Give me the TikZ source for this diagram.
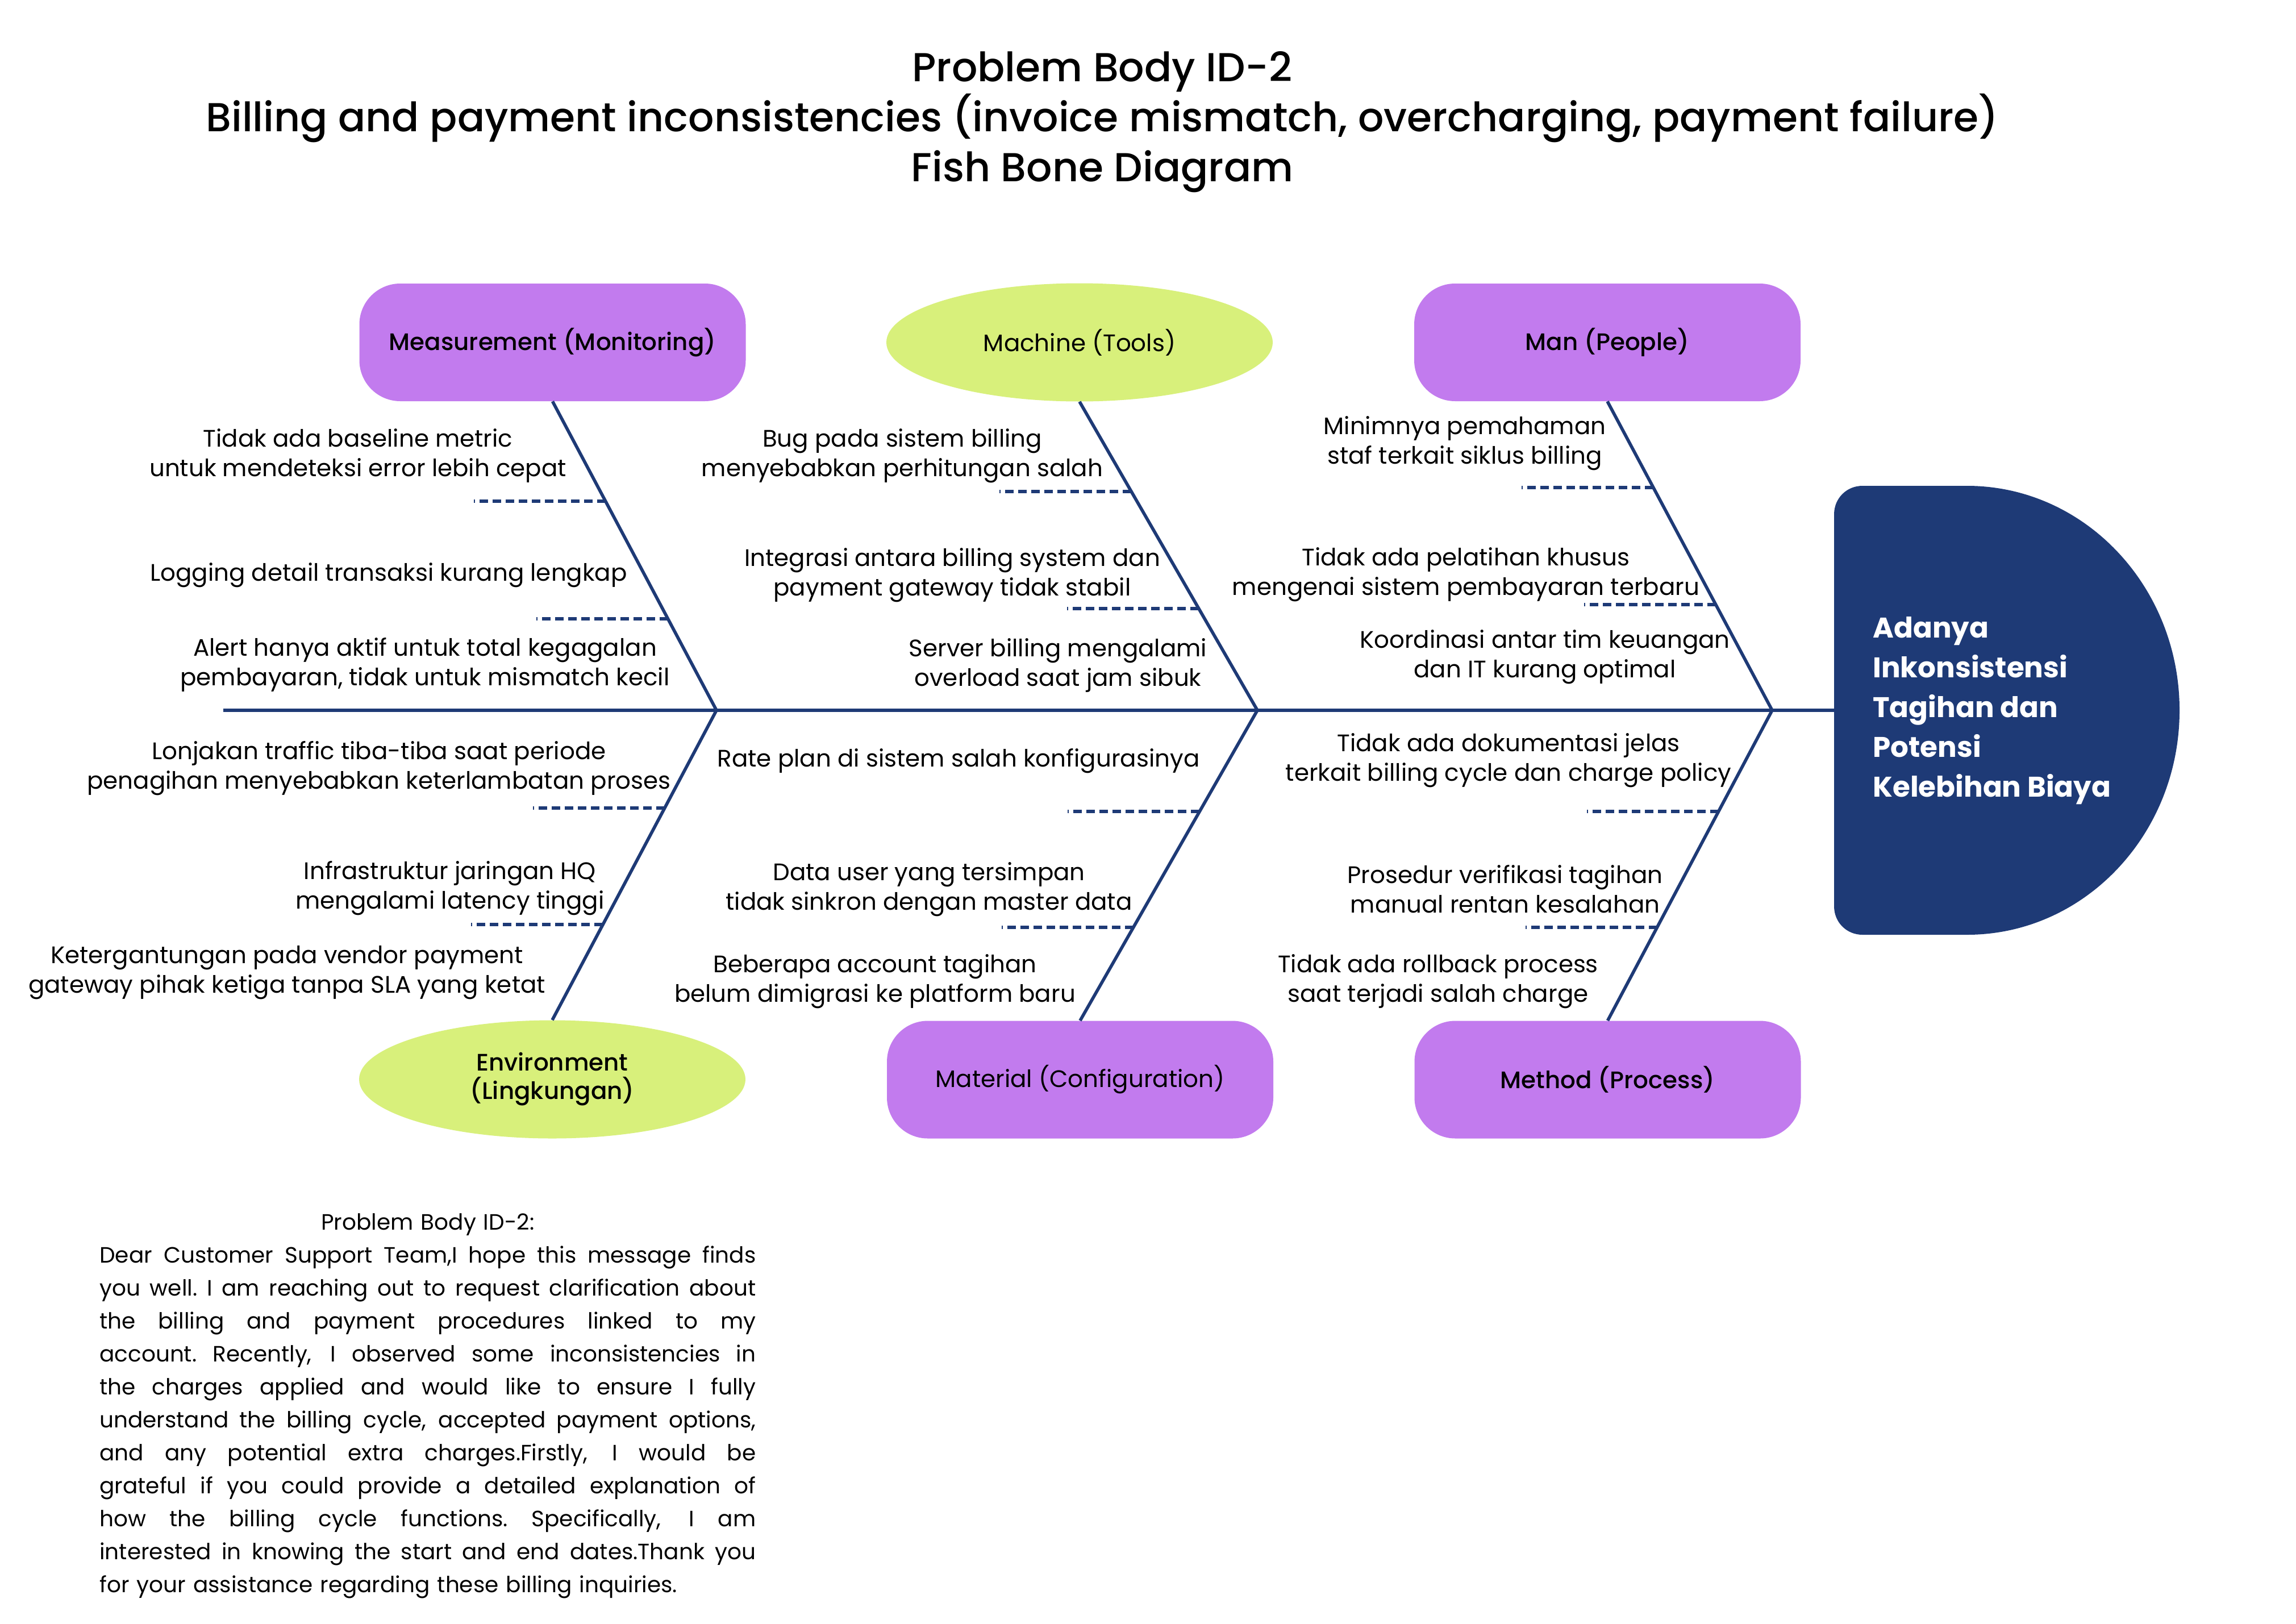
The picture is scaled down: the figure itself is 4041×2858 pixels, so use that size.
\documentclass[tikz,border=0pt]{standalone}
\usepackage{fontspec}
\setmainfont{Poppins}
\newfontfamily\medfont{Poppins Medium}
\usetikzlibrary{shapes.geometric}
\definecolor{navy}{HTML}{1E3A76}
\definecolor{lilac}{HTML}{C27BEE}
\definecolor{lime}{HTML}{D8F07B}
% one justified line of the letter, stretched to the full measure
\newcommand\jline[1]{\par\noindent\hbox to \hsize{\spaceskip=0.26em plus 1fil minus 0.08em
  \xspaceskip=\spaceskip\relax #1}\par}

\begin{document}
\begin{tikzpicture}[x=0.5pt, y=-0.5pt,
  catbox/.style={fill=lilac, rounded corners=36pt, minimum width=340pt,
    minimum height=103.5pt, inner sep=0pt, align=center},
  catoval/.style={fill=lime, ellipse, minimum width=340pt,
    minimum height=104pt, inner sep=0pt, align=center},
  catmed/.style={font=\medfont\fontsize{21}{25}\selectfont},
  catreg/.style={font=\fontsize{21}{25}\selectfont},
  bone/.style={draw=navy, line width=2.8pt},
  subbone/.style={draw=navy, line width=2.7pt, dash pattern=on 7.5pt off 4pt},
  cause/.style={font=\fontsize{21}{26}\selectfont, align=center, inner sep=0pt},
]
\fill[white] (0,0) rectangle (4041,2858);
\useasboundingbox (0,0) rectangle (4041,2858);

% title
\node[font=\medfont\fontsize{35.6}{44}\selectfont, align=center] (title) at (1940,215)
  {Problem Body ID-2\\Billing and payment inconsistencies (invoice mismatch, overcharging, payment failure)\\Fish Bone Diagram};

% head of the fish
\fill[navy] (3462,855) arc[start angle=90, end angle=-90, x radius=187pt, y radius=197.5pt]
  -- (3278,1645) .. controls (3250,1645) and (3228,1623) .. (3228,1595)
  -- (3228,905) .. controls (3228,877) and (3250,855) .. (3278,855) -- cycle;
\coordinate (headL) at (3228,1250);
\node[anchor=west, text=white, font=\bfseries\fontsize{25}{35}\selectfont, align=left, inner sep=0pt]
  (effect) at (3296,1251) {Adanya\\Inkonsistensi\\Tagihan dan\\Potensi\\Kelebihan Biaya};

% categories
\node[catbox, catmed] (meas) at (972.5,602.5) {Measurement (Monitoring)};
\node[catoval, catreg] (mach) at (1900,602.5) {Machine (Tools)};
\node[catbox, catmed] (man) at (2829,602.5) {Man (People)};
\node[catoval, catmed] (env) at (972,1899.5) {Environment\\(Lingkungan)};
\node[catbox, catreg] (mat) at (1901,1900) {Material (Configuration)};
\node[catbox, catmed] (meth) at (2829.5,1900) {Method (Process)};

% spine and bones
\coordinate (tail) at (393,1250);
\coordinate (j1) at (1261,1250);
\coordinate (j2) at (2213,1250);
\coordinate (j3) at (3119,1250);
\draw[bone] (tail) -- (headL);
\draw[bone] (meas.south) -- (j1);
\draw[bone] (mach.south) -- (j2);
\draw[bone] (man.south) -- (j3);
\draw[bone] (j1) -- (env.north);
\draw[bone] (j2) -- (mat.north);
\draw[bone] (j3) -- (meth.north);

% attachment points of the minor causes
\coordinate (a1) at (intersection cs: first line={(meas.south)--(j1)}, second line={(0,882)--(100,882)});
\coordinate (a2) at (intersection cs: first line={(meas.south)--(j1)}, second line={(0,1089)--(100,1089)});
\coordinate (b1) at (intersection cs: first line={(mach.south)--(j2)}, second line={(0,865)--(100,865)});
\coordinate (b2) at (intersection cs: first line={(mach.south)--(j2)}, second line={(0,1071)--(100,1071)});
\coordinate (c1) at (intersection cs: first line={(man.south)--(j3)}, second line={(0,858)--(100,858)});
\coordinate (c2) at (intersection cs: first line={(man.south)--(j3)}, second line={(0,1064)--(100,1064)});
\coordinate (d1) at (intersection cs: first line={(env.north)--(j1)}, second line={(0,1422)--(100,1422)});
\coordinate (d2) at (intersection cs: first line={(env.north)--(j1)}, second line={(0,1627)--(100,1627)});
\coordinate (e1) at (intersection cs: first line={(mat.north)--(j2)}, second line={(0,1428)--(100,1428)});
\coordinate (e2) at (intersection cs: first line={(mat.north)--(j2)}, second line={(0,1632)--(100,1632)});
\coordinate (f1) at (intersection cs: first line={(meth.north)--(j3)}, second line={(0,1428)--(100,1428)});
\coordinate (f2) at (intersection cs: first line={(meth.north)--(j3)}, second line={(0,1632)--(100,1632)});
\foreach \p in {a1,a2,b1,b2,c1,c2,d1,d2,e1,e2,f1,f2}
  \draw[subbone] (\p) -- ++(-232,0);

% causes: measurement
\node[cause] (ma) at (630,802) {Tidak ada baseline metric\\untuk mendeteksi error lebih cepat};
\node[cause] (mb) at (684,1012) {Logging detail transaksi kurang lengkap};
\node[cause] (mc) at (748,1170) {Alert hanya aktif untuk total kegagalan\\pembayaran, tidak untuk mismatch kecil};
% causes: machine
\node[cause] (ka) at (1588,802) {Bug pada sistem billing\\menyebabkan perhitungan salah};
\node[cause] (kb) at (1676,1012) {Integrasi antara billing system dan\\payment gateway tidak stabil};
\node[cause] (kc) at (1862,1171) {Server billing mengalami\\overload saat jam sibuk};
% causes: man
\node[cause] (pa) at (2578,780) {Minimnya pemahaman\\staf terkait siklus billing};
\node[cause] (pb) at (2580,1011) {Tidak ada pelatihan khusus\\mengenai sistem pembayaran terbaru};
\node[cause] (pc) at (2719,1156) {Koordinasi antar tim keuangan\\dan IT kurang optimal};
% causes: environment
\node[cause] (na) at (667,1352) {Lonjakan traffic tiba-tiba saat periode\\penagihan menyebabkan keterlambatan proses};
\node[cause] (nb) at (792,1563) {Infrastruktur jaringan HQ\\mengalami latency tinggi};
\node[cause] (nc) at (505,1712) {Ketergantungan pada vendor payment\\gateway pihak ketiga tanpa SLA yang ketat};
% causes: material
\node[cause] (ta) at (1687,1339) {Rate plan di sistem salah konfigurasinya};
\node[cause] (tb) at (1635,1565) {Data user yang tersimpan\\tidak sinkron dengan master data};
\node[cause] (tc) at (1540,1727) {Beberapa account tagihan\\belum dimigrasi ke platform baru};
% causes: method
\node[cause] (ha) at (2655,1338) {Tidak ada dokumentasi jelas\\terkait billing cycle dan charge policy};
\node[cause] (hb) at (2649,1565) {Prosedur verifikasi tagihan\\manual rentan kesalahan};
\node[cause] (hc) at (2531,1727) {Tidak ada rollback process\\saat terjadi salah charge};

% the customer letter
\node[anchor=north west, inner sep=0pt, text width=577.5pt, align=left,
  font=\fontsize{19.5}{29}\selectfont] (letter) at (175,2106) {%
  \par\noindent\hbox to \hsize{\hfil Problem Body ID-2:\hfil}\par
  \jline{Dear Customer Support Team,I hope this message finds}
  \jline{you well. I am reaching out to request clarification about}
  \jline{the billing and payment procedures linked to my}
  \jline{account. Recently, I observed some inconsistencies in}
  \jline{the charges applied and would like to ensure I fully}
  \jline{understand the billing cycle, accepted payment options,}
  \jline{and any potential extra charges.Firstly, I would be}
  \jline{grateful if you could provide a detailed explanation of}
  \jline{how the billing cycle functions. Specifically, I am}
  \jline{interested in knowing the start and end dates.Thank you}
  \noindent for your assistance regarding these billing inquiries.};
\end{tikzpicture}
\end{document}
